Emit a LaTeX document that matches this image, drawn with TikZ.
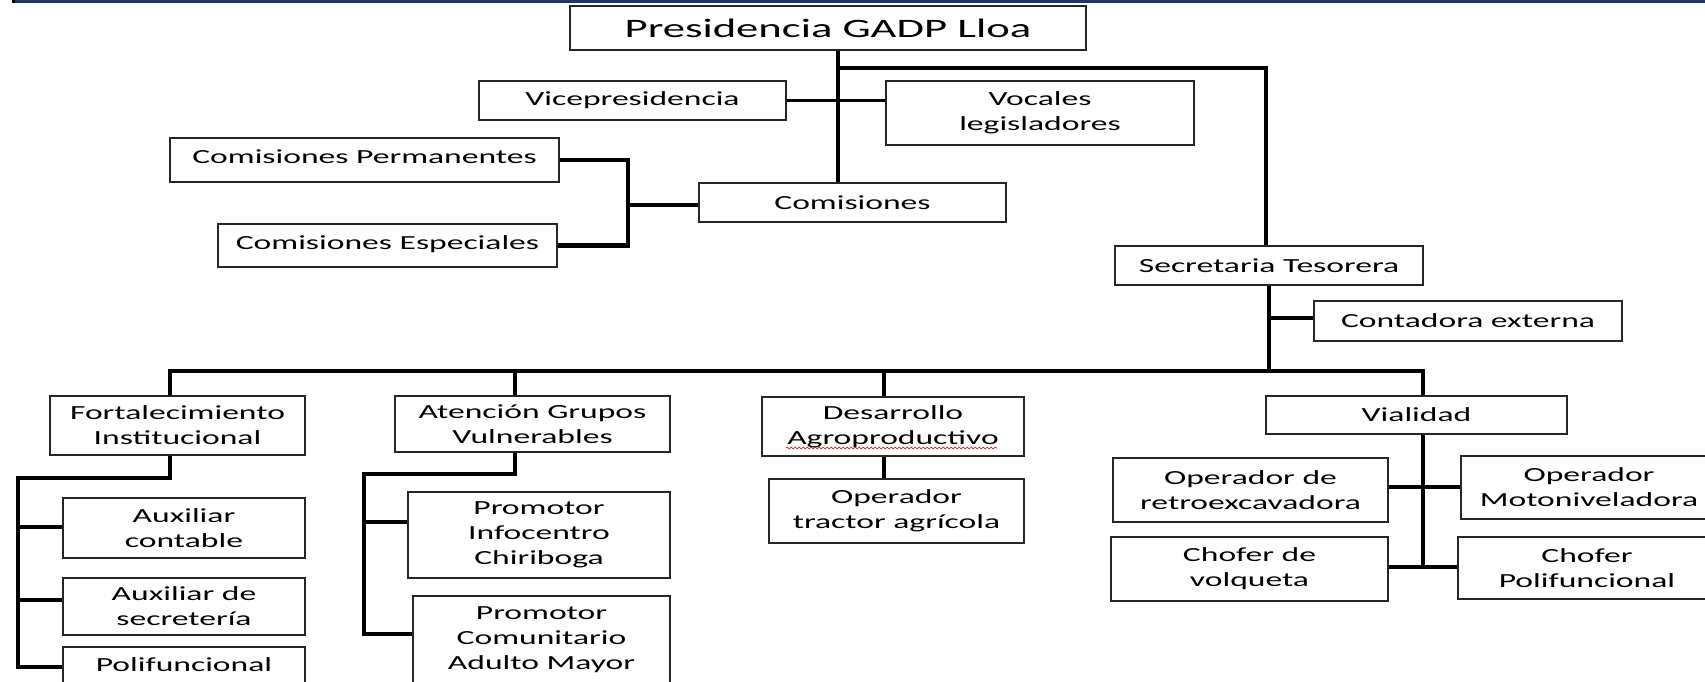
\documentclass[tikz,border=0pt]{standalone}
\usepackage{fontspec}
\setmainfont{Carlito}[FakeStretch=1.68]
\usetikzlibrary{decorations.pathmorphing}
\definecolor{navyband}{RGB}{31,56,96}
\tikzset{
  box/.style={draw=black!85, line width=0.75pt, fill=white, inner sep=0pt, align=center,
    font=\fontsize{10}{12.5}\selectfont},
  link/.style={line width=2.4pt, line join=miter, draw=black},
  thinlink/.style={line width=1.7pt, draw=black},
  squiggle/.style={draw=red!80!black, line width=0.3pt, decorate,
    decoration={snake, amplitude=0.45pt, segment length=2pt}}
}
\newcommand{\orgbox}[7][]{%
  \node[box, minimum width={(#5-#3)*0.5pt}, minimum height={(#6-#4)*0.5pt}, #1]
    (#2) at ({(#3+#5)/2},{(#4+#6)/2}) {#7};}
\begin{document}
\begin{tikzpicture}[x=0.5pt,y=-0.5pt]
\useasboundingbox (0,0) rectangle (1705,681);
\clip (0,0) rectangle (1705,681);
\fill[navyband] (13,0) rectangle (1705,2.5);
\fill[black] (12,0) rectangle (15,2.5);

% boxes
\orgbox[font=\fontsize{13.3}{15}\selectfont]{pres}{570}{6}{1086}{50}{Presidencia GADP Lloa}
\orgbox{vice}{479}{81}{786}{120}{Vicepresidencia}
\orgbox{voc}{886}{81}{1194}{145}{Vocales\\legisladores}
\orgbox{cper}{170}{138}{559}{182}{\raisebox{3pt}{Comisiones Permanentes}}
\orgbox{cesp}{218}{224}{557}{267}{\raisebox{2.5pt}{Comisiones Especiales}}
\orgbox{comis}{699}{183}{1006}{222}{Comisiones}
\orgbox{sec}{1115}{246}{1423}{285}{Secretaria Tesorera}
\orgbox{cont}{1314}{301}{1622}{341}{Contadora externa}
\orgbox{fort}{50}{396}{305}{455}{Fortalecimiento\\Institucional}
\orgbox{aten}{395}{396}{670}{452}{Atención Grupos\\Vulnerables}
\orgbox{desa}{762}{397}{1024}{456}{Desarrollo\\Agroproductivo}
\orgbox{vial}{1266}{396}{1567}{434}{Vialidad}
\orgbox{auxc}{63}{498}{305}{558}{Auxiliar\\contable}
\orgbox{auxs}{63}{578}{305}{635}{Auxiliar de\\secretería}
\orgbox{poli}{63}{647}{305}{707}{Polifuncional\\\mbox{}}
\orgbox{pinf}{408}{492}{670}{578}{Promotor\\Infocentro\\Chiriboga}
\orgbox{pcom}{413}{596}{670}{684}{Promotor\\Comunitario\\Adulto Mayor}
\orgbox{trac}{769}{479}{1024}{543}{Operador\\tractor agrícola}
\orgbox{retro}{1113}{458}{1388}{522}{Operador de\\retroexcavadora}
\orgbox{moto}{1461}{456}{1717}{519}{Operador\\Motoniveladora}
\orgbox{volq}{1111}{537}{1388}{601}{Chofer de\\volqueta}
\orgbox{cpoli}{1458}{537}{1716}{599}{Chofer\\Polifuncional}

% spell-check squiggle
\draw[squiggle] (786,448) -- (997,448);

% junction coordinates
\coordinate (trunk) at (838,0);
\coordinate (br) at (1266,68);
\coordinate (bk) at (628,205);
\coordinate (sv) at (1269,0);
\coordinate (cj) at (1269,318);
\coordinate (bus) at (0,371);
\coordinate (dF) at (170,0);
\coordinate (dA) at (515,0);
\coordinate (dD) at (884,0);
\coordinate (dV) at (1423,0);
\coordinate (fj) at (18,478);
\coordinate (fa) at (18,527);
\coordinate (fs) at (18,600);
\coordinate (fb) at (18,667);
\coordinate (aj) at (364,474);
\coordinate (ai) at (364,522);
\coordinate (ab) at (364,634);
\coordinate (vm) at (1423,487);
\coordinate (vb) at (1423,567);

% connectors
\draw[link] (pres.south -| trunk) -- (comis.north -| trunk);
\draw[link] (br -| trunk) -- (br) -- (br |- sec.north);
\draw[thinlink] (vice.east) -- (vice.east -| voc.west);
\draw[link] (cper.east) -| (bk) |- (cesp.east);
\draw[link] (bk) -- (bk -| comis.west);
\draw[link] (sec.south -| sv) -- (bus -| sv);
\draw[thinlink] (cj) -- (cj -| cont.west);
\draw[link] (dF |- fort.north) -- (dF |- bus) -- (dV |- bus) -- (dV |- vial.north);
\draw[link] (dA |- bus) -- (dA |- aten.north);
\draw[link] (dD |- bus) -- (dD |- desa.north);
\draw[link] (dF |- fort.south) |- (fj) -- (fb) -- (fb -| poli.west);
\draw[link] (fa) -- (fa -| auxc.west);
\draw[link] (fs) -- (fs -| auxs.west);
\draw[link] (dA |- aten.south) |- (aj) -- (ab) -- (ab -| pcom.west);
\draw[link] (ai) -- (ai -| pinf.west);
\draw[link] (dD |- desa.south) -- (dD |- trac.north);
\draw[link] (dV |- vial.south) -- (vb);
\draw[link] (vm -| retro.east) -- (vm -| moto.west);
\draw[link] (vb -| volq.east) -- (vb -| cpoli.west);
\end{tikzpicture}
\end{document}
